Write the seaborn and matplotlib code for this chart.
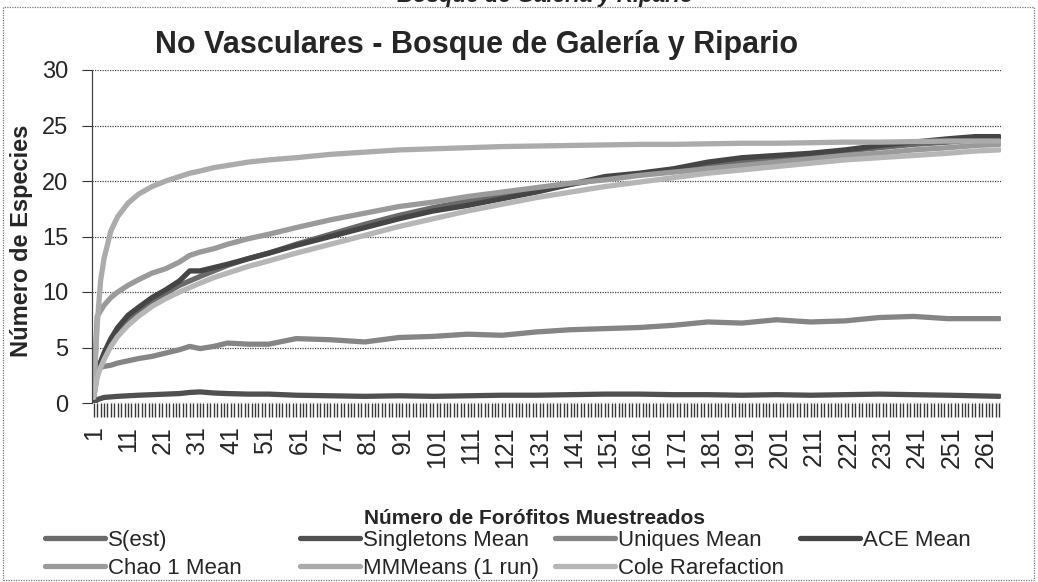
import pandas as pd
import matplotlib.pyplot as plt
import numpy as np
import seaborn as sns
from matplotlib.lines import Line2D
from matplotlib.patches import Rectangle

muestras = [1, 2, 3, 4, 6, 8, 11, 14, 18, 22, 26, 29, 32, 36, 40, 46, 52, 60, 70, 80,
            90, 100, 110, 120, 130, 140, 150, 160, 170, 180, 190, 200, 210, 220, 230, 240,
            250, 258, 265]

s_est = [0.5, 2.5, 3.4, 4.2, 5.6, 6.5, 7.6, 8.3, 9.2, 9.9, 10.6, 11.0, 11.4, 11.9, 12.4,
         13.0, 13.5, 14.3, 15.2, 16.1, 16.9, 17.6, 18.2, 18.7, 19.2, 19.7, 20.2, 20.6, 21.0,
         21.4, 21.8, 22.1, 22.4, 22.7, 23.0, 23.3, 23.5, 23.7, 23.8]
singletons = [0.0, 0.3, 0.4, 0.5, 0.55, 0.6, 0.65, 0.7, 0.75, 0.8, 0.85, 0.95, 1.0, 0.9,
              0.85, 0.8, 0.8, 0.7, 0.65, 0.6, 0.65, 0.6, 0.65, 0.7, 0.7, 0.75, 0.8, 0.8,
              0.75, 0.75, 0.7, 0.75, 0.7, 0.75, 0.8, 0.75, 0.7, 0.65, 0.6]
uniques = [0.5, 3.1, 3.2, 3.3, 3.4, 3.6, 3.8, 4.0, 4.2, 4.5, 4.8, 5.1, 4.9, 5.1, 5.4, 5.3,
           5.3, 5.8, 5.7, 5.5, 5.9, 6.0, 6.2, 6.1, 6.4, 6.6, 6.7, 6.8, 7.0, 7.3, 7.2, 7.5,
           7.3, 7.4, 7.7, 7.8, 7.6, 7.6, 7.6]
ace = [0.8, 2.8, 3.7, 4.5, 5.8, 6.8, 7.9, 8.6, 9.5, 10.2, 11.0, 11.9, 11.9, 12.2, 12.5,
       13.0, 13.5, 14.2, 15.0, 15.8, 16.6, 17.3, 17.8, 18.4, 19.0, 19.7, 20.4, 20.7, 21.1,
       21.7, 22.1, 22.3, 22.5, 22.8, 23.2, 23.5, 23.8, 24.0, 24.0]
chao1 = [1.0, 7.8, 8.3, 8.8, 9.5, 10.0, 10.6, 11.1, 11.7, 12.1, 12.7, 13.3, 13.6, 13.9,
         14.3, 14.8, 15.2, 15.8, 16.5, 17.1, 17.7, 18.1, 18.6, 19.0, 19.4, 19.8, 20.1,
         20.5, 20.8, 21.1, 21.4, 21.7, 22.0, 22.3, 22.5, 22.8, 23.0, 23.2, 23.3]
mmmeans = [1.0, 7.0, 11.0, 13.0, 15.5, 16.8, 18.0, 18.8, 19.5, 20.0, 20.4, 20.7, 20.9,
           21.2, 21.4, 21.7, 21.9, 22.1, 22.4, 22.6, 22.8, 22.9, 23.0, 23.1, 23.15, 23.2,
           23.25, 23.3, 23.3, 23.35, 23.4, 23.4, 23.45, 23.5, 23.5, 23.55, 23.6, 23.6, 23.6]
cole = [0.5, 2.3, 3.2, 3.9, 5.1, 6.0, 7.0, 7.8, 8.7, 9.4, 10.0, 10.4, 10.8, 11.3, 11.7,
        12.3, 12.8, 13.5, 14.3, 15.1, 15.9, 16.6, 17.3, 17.9, 18.5, 19.0, 19.5, 19.9,
        20.3, 20.7, 21.0, 21.3, 21.6, 21.9, 22.1, 22.3, 22.5, 22.7, 22.8]

series = ['S(est)', 'Singletons Mean', 'Uniques Mean', 'ACE Mean',
          'Chao 1 Mean', 'MMMeans (1 run)', 'Cole Rarefaction']
valores = [s_est, singletons, uniques, ace, chao1, mmmeans, cole]
colores = ['#6a6a6a', '#505050', '#858585', '#454545', '#9a9a9a', '#ababab', '#b6b6b6']
n_muestras = 265

df = pd.concat([pd.DataFrame({'muestra': muestras, 'especies': v, 'serie': s})
                for s, v in zip(series, valores)], ignore_index=True)

sns.set_style('white')
plt.rcParams['font.family'] = ['Liberation Sans', 'DejaVu Sans']

fig = plt.figure(figsize=(10.38, 5.82), dpi=100)
ax = fig.add_axes([92 / 1038, 1 - 403 / 582, 909 / 1038, 333 / 582])

sns.lineplot(data=df, x='muestra', y='especies', hue='serie', hue_order=series,
             palette=dict(zip(series, colores)), linewidth=3.8, legend=False, ax=ax)

ax.set_xlim(0.5, n_muestras + 0.5)
ax.set_ylim(0, 30)
ax.set_yticks(range(0, 31, 5))
ax.set_xticks(range(1, n_muestras + 1, 10))
ax.set_xticklabels([str(i) for i in range(1, n_muestras + 1, 10)], rotation=90)
ax.set_xticks(range(1, n_muestras + 1), minor=True)
ax.tick_params(axis='x', which='both', direction='out', length=10, width=1.0,
               color='#3a3a3a', bottom=True, labelsize=18, pad=7)
ax.tick_params(axis='y', direction='out', length=7, width=0.8, color='#333333',
               left=True, labelsize=17, pad=10)
ax.grid(axis='y', color='#444444', linewidth=0.9, linestyle=(0, (1, 1)))
ax.grid(axis='x', visible=False)
for side in ['top', 'right', 'bottom']:
    ax.spines[side].set_visible(False)
ax.spines['left'].set_color('#444444')
ax.spines['left'].set_linewidth(0.9)
ax.spines['left'].set_linestyle((0, (1, 1)))
ax.set_xlabel('')
ax.set_ylabel('')

fig.text(477 / 1038, 1 - 45 / 582, 'No Vasculares - Bosque de Galería y Ripario',
         ha='center', va='center', fontsize=22, fontweight='bold')
fig.text(545 / 1038, 1 - 2 / 582, 'Bosque de Galería y Ripario', ha='center',
         va='baseline', fontsize=16, fontweight='bold', style='italic')
fig.text(22 / 1038, 1 - 241 / 582, 'Número de Especies', rotation=90, ha='center',
         va='center', fontsize=17, fontweight='bold')
fig.text(534 / 1038, 1 - 518 / 582, 'Número de Forófitos Muestreados', ha='center',
         va='center', fontsize=15, fontweight='bold')

# leyenda en 4 columnas, orden por filas
columnas = [[0, 4], [1, 5], [2, 6], [3]]
x_cols = [45, 300, 555, 800]
for col, x0 in zip(columnas, x_cols):
    handles = [Line2D([], [], color=colores[i], linewidth=3.8) for i in col]
    labels = [series[i] for i in col]
    fig.legend(handles, labels, loc='upper left', bbox_to_anchor=(x0 / 1038, 1 - 530 / 582),
               frameon=False, fontsize=16, handlelength=2.7, handletextpad=0.12,
               labelspacing=0.3, borderaxespad=0, borderpad=0)

fig.patches.append(Rectangle((3 / 1038, 2 / 582), 1031 / 1038, 573 / 582,
                             transform=fig.transFigure, fill=False, edgecolor='#777777',
                             linewidth=0.9, linestyle=(0, (1, 1))))

fig.savefig('out.png', dpi=100)
